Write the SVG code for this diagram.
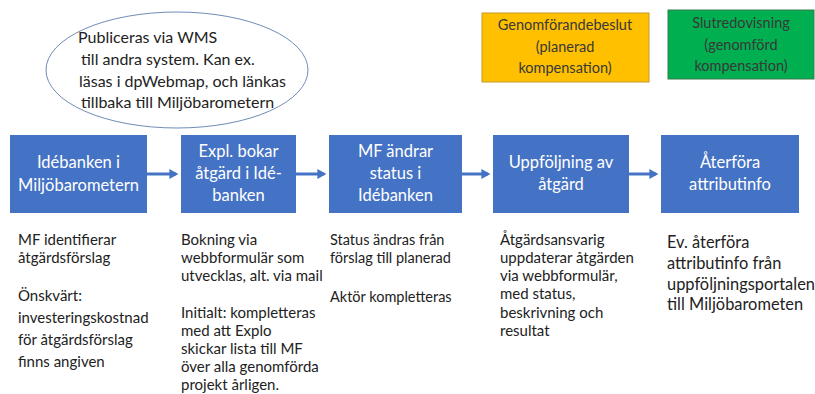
<svg xmlns="http://www.w3.org/2000/svg" width="815" height="394" viewBox="0 0 815 394">
<style>
text{font-family:Lato,"Liberation Sans",sans-serif;}
.box{fill:#4472c4;}
.bt{fill:#ffffff;font-size:16.5px;text-anchor:middle;}
.note{fill:#222222;font-size:15px;}
.note3{fill:#222222;font-size:14.5px;}
.big{fill:#222222;font-size:16.4px;}
.ell{fill:#222222;font-size:16px;}
.st{fill:#383838;font-size:14.5px;text-anchor:middle;}
.conn{stroke:#4472c4;stroke-width:3;fill:none;}
</style>
<defs>
<marker id="ah" markerWidth="4" markerHeight="4" refX="2.2" refY="2" orient="auto" markerUnits="strokeWidth">
<path d="M0,0.3 L3,2 L0,3.7 Z" fill="#4472c4"/>
</marker>
</defs>
<rect width="815" height="394" fill="#ffffff"/>

<g id="ellipse-note">
<ellipse cx="177" cy="70" rx="131" ry="58" fill="#ffffff" stroke="#6f8db5" stroke-width="1"/>
<text class="ell" x="78" y="43">Publiceras via WMS</text>
<text class="ell" x="81" y="65">till andra system. Kan ex.</text>
<text class="ell" x="79" y="87">läsas i dpWebmap, och länkas</text>
<text class="ell" x="81" y="108">tillbaka till Miljöbarometern</text>
</g>

<g id="genomforandebeslut">
<rect x="482" y="13" width="167" height="69" fill="#ffc000" stroke="#c69a2a" stroke-width="1"/>
<text class="st" x="565" y="30">Genomförandebeslut</text>
<text class="st" x="565" y="52">(planerad</text>
<text class="st" x="565" y="73">kompensation)</text>
</g>

<g id="slutredovisning">
<rect x="668" y="10" width="146" height="69" fill="#00b050" stroke="#3d7a4d" stroke-width="1"/>
<text class="st" x="741" y="28">Slutredovisning</text>
<text class="st" x="741" y="50">(genomförd</text>
<text class="st" x="741" y="71">kompensation)</text>
</g>

<g id="connectors">
<line class="conn" x1="147" y1="174" x2="176" y2="174" marker-end="url(#ah)"/>
<line class="conn" x1="296" y1="174" x2="324" y2="174" marker-end="url(#ah)"/>
<line class="conn" x1="462" y1="174" x2="488" y2="174" marker-end="url(#ah)"/>
<line class="conn" x1="629" y1="174" x2="656" y2="174" marker-end="url(#ah)"/>
</g>

<g id="idebanken">
<rect class="box" x="10" y="135" width="137" height="78"/>
<text class="bt" x="78.5" y="168">Idébanken i</text>
<text class="bt" x="78.5" y="191">Miljöbarometern</text>
</g>

<g id="expl-bokar">
<rect class="box" x="181" y="135" width="115" height="78"/>
<text class="bt" x="238.5" y="157">Expl. bokar</text>
<text class="bt" x="238.5" y="179">åtgärd i Idé-</text>
<text class="bt" x="238.5" y="201">banken</text>
</g>

<g id="mf-andrar">
<rect class="box" x="329" y="135" width="133" height="78"/>
<text class="bt" x="395.5" y="157">MF ändrar</text>
<text class="bt" x="395.5" y="179">status i</text>
<text class="bt" x="395.5" y="201">Idébanken</text>
</g>

<g id="uppfoljning">
<rect class="box" x="493" y="135" width="136" height="78"/>
<text class="bt" x="561" y="168">Uppföljning av</text>
<text class="bt" x="561" y="190">åtgärd</text>
</g>

<g id="aterfora">
<rect class="box" x="661" y="135" width="138" height="78"/>
<text class="bt" x="730" y="168">Återföra</text>
<text class="bt" x="730" y="190">attributinfo</text>
</g>

<g id="notes-col1">
<text class="note" x="18" y="245">MF identifierar</text>
<text class="note" x="18" y="263">åtgärdsförslag</text>
<text class="note" x="18" y="301">Önskvärt:</text>
<text class="note" x="18" y="323">investeringskostnad</text>
<text class="note" x="18" y="345">för åtgärdsförslag</text>
<text class="note" x="18" y="367">finns angiven</text>
</g>

<g id="notes-col2">
<text class="note" x="181" y="245">Bokning via</text>
<text class="note" x="181" y="263">webbformulär som</text>
<text class="note" x="181" y="281">utvecklas, alt. via mail</text>
<text class="note" x="181" y="318">Initialt: kompletteras</text>
<text class="note" x="181" y="336">med att Explo</text>
<text class="note" x="181" y="354">skickar  lista till MF</text>
<text class="note" x="181" y="372">över alla genomförda</text>
<text class="note" x="181" y="390">projekt årligen.</text>
</g>

<g id="notes-col3">
<text class="note3" x="330" y="245">Status ändras från</text>
<text class="note3" x="330" y="263">förslag till planerad</text>
<text class="note3" x="330" y="302">Aktör kompletteras</text>
</g>

<g id="notes-col4">
<text class="note" x="500" y="245">Åtgärdsansvarig</text>
<text class="note" x="500" y="263">uppdaterar åtgärden</text>
<text class="note" x="500" y="281">via webbformulär,</text>
<text class="note" x="500" y="299">med status,</text>
<text class="note" x="500" y="318">beskrivning och</text>
<text class="note" x="500" y="336">resultat</text>
</g>

<g id="notes-col5">
<text class="big" x="667" y="248">Ev. återföra</text>
<text class="big" x="667" y="269">attributinfo från</text>
<text class="big" x="667" y="290">uppföljningsportalen</text>
<text class="big" x="667" y="310">till Miljöbarometen</text>
</g>
</svg>
